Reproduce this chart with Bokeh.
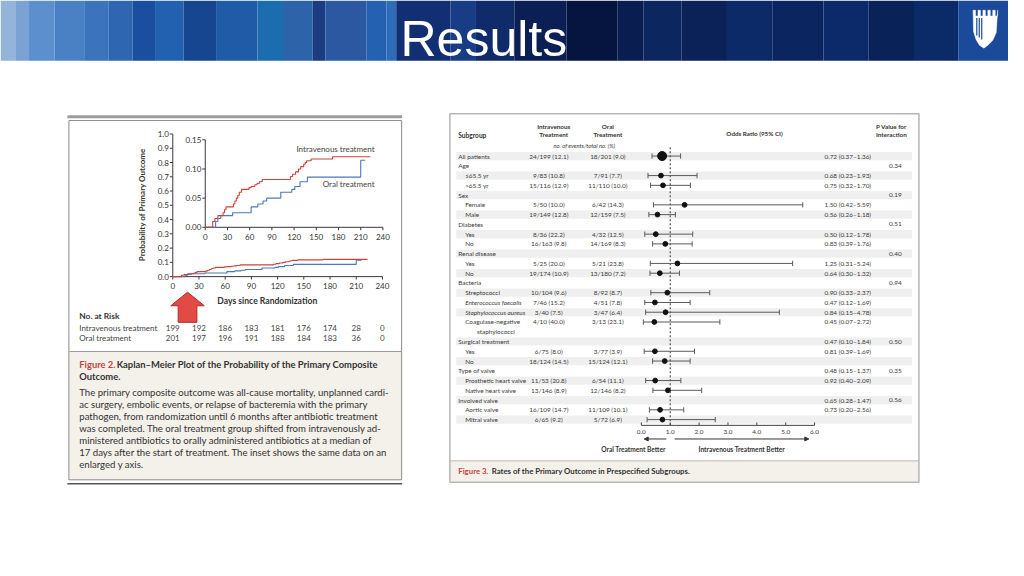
import math
from bokeh.plotting import figure
from bokeh.models import Range1d, ColumnDataSource, Arrow, NormalHead
from bokeh.core.properties import value
from bokeh.embed import file_html
from bokeh.resources import INLINE

# ======================= DATA =======================
slide_title = "Results"

# --- Figure 2: Kaplan-Meier ---
km_day_ticks = [0, 30, 60, 90, 120, 150, 180, 210, 240]
km_prob_ticks = [0.0, 0.1, 0.2, 0.3, 0.4, 0.5, 0.6, 0.7, 0.8, 0.9, 1.0]
km_prob_labels = ["0.0", "0.1", "0.2", "0.3", "0.4", "0.5", "0.6", "0.7", "0.8", "0.9", "1.0"]
inset_prob_ticks = [0.00, 0.05, 0.10, 0.15]
inset_prob_labels = ["0.00", "0.05", "0.10", "0.15"]

iv_days = [0, 10, 13, 17, 24, 26, 28, 38, 40, 42, 44, 46, 49, 59, 62, 67, 70, 73, 77,
           115, 118, 122, 126, 129, 133, 135, 137, 143, 172, 223]
iv_prob = [0.0, 0.010, 0.015, 0.020, 0.025, 0.030, 0.035, 0.040, 0.045, 0.050, 0.055, 0.060,
           0.065, 0.068, 0.070, 0.073, 0.075, 0.078, 0.082, 0.087, 0.091, 0.095, 0.100,
           0.104, 0.108, 0.111, 0.114, 0.117, 0.121, 0.121]
oral_days = [0, 14, 17, 21, 37, 62, 71, 78, 83, 102, 117, 121, 128, 138, 210, 216]
oral_prob = [0.0, 0.010, 0.015, 0.020, 0.025, 0.035, 0.040, 0.045, 0.050, 0.060, 0.065,
             0.070, 0.078, 0.086, 0.115, 0.115]

km_series_labels = ["Intravenous treatment", "Oral treatment"]
risk_title = "No. at Risk"
iv_at_risk = [199, 192, 186, 183, 181, 176, 174, 28, 0]
oral_at_risk = [201, 197, 196, 191, 188, 184, 183, 36, 0]
km_y_title = "Probability of Primary Outcome"
km_x_title = "Days since Randomization"

fig2_label = "Figure 2."
fig2_title = ["Kaplan\u2013Meier Plot of the Probability of the Primary Composite", "Outcome."]
fig2_body = [
    "The primary composite outcome was all-cause mortality, unplanned cardi-",
    "ac surgery, embolic events, or relapse of bacteremia with the primary",
    "pathogen, from randomization until 6 months after antibiotic treatment",
    "was completed. The oral treatment group shifted from intravenously ad-",
    "ministered antibiotics to orally administered antibiotics at a median of",
    "17 days after the start of treatment. The inset shows the same data on an",
    "enlarged y axis.",
]

# --- Figure 3: subgroup forest plot ---
subgroup_labels = ["All patients", "Age", "\u226465.5 yr", ">65.5 yr", "Sex", "Female", "Male",
                   "Diabetes", "Yes", "No", "Renal disease", "Yes", "No", "Bacteria",
                   "Streptococci", "Enterococcus faecalis", "Staphylococcus aureus",
                   "Coagulase-negative", "staphylococci", "Surgical treatment", "Yes", "No",
                   "Type of valve", "Prosthetic heart valve", "Native heart valve",
                   "Involved valve", "Aortic valve", "Mitral valve"]
subgroup_level = [0, 0, 1, 1, 0, 1, 1, 0, 1, 1, 0, 1, 1, 0, 1, 1, 1, 1, 2, 0, 1, 1, 0, 1, 1, 0, 1, 1]
subgroup_italic = [15, 16]
iv_events = ["24/199 (12.1)", "", "9/83 (10.8)", "15/116 (12.9)", "", "5/50 (10.0)",
             "19/149 (12.8)", "", "8/36 (22.2)", "16/163 (9.8)", "", "5/25 (20.0)",
             "19/174 (10.9)", "", "10/104 (9.6)", "7/46 (15.2)", "3/40 (7.5)", "4/10 (40.0)",
             "", "", "6/75 (8.0)", "18/124 (14.5)", "", "11/53 (20.8)", "13/146 (8.9)", "",
             "16/109 (14.7)", "6/65 (9.2)"]
oral_events = ["18/201 (9.0)", "", "7/91 (7.7)", "11/110 (10.0)", "", "6/42 (14.3)",
               "12/159 (7.5)", "", "4/32 (12.5)", "14/169 (8.3)", "", "5/21 (23.8)",
               "13/180 (7.2)", "", "8/92 (8.7)", "4/51 (7.8)", "3/47 (6.4)", "3/13 (23.1)",
               "", "", "3/77 (3.9)", "15/124 (12.1)", "", "6/54 (11.1)", "12/146 (8.2)", "",
               "11/109 (10.1)", "5/72 (6.9)"]
or_rows = [0, 2, 3, 5, 6, 8, 9, 11, 12, 14, 15, 16, 17, 20, 21, 23, 24, 26, 27]
or_est = [0.72, 0.68, 0.75, 1.50, 0.56, 0.50, 0.83, 1.25, 0.64, 0.90, 0.47, 0.84, 0.45,
          0.47, 0.81, 0.48, 0.92, 0.65, 0.73]
or_lo = [0.37, 0.23, 0.32, 0.42, 0.26, 0.12, 0.39, 0.31, 0.30, 0.33, 0.12, 0.15, 0.07,
         0.10, 0.39, 0.15, 0.40, 0.28, 0.20]
or_hi = [1.36, 1.93, 1.70, 5.59, 1.18, 1.78, 1.76, 5.24, 1.32, 2.37, 1.69, 4.78, 2.72,
         1.84, 1.69, 1.37, 2.09, 1.47, 2.56]
p_rows = [1, 4, 7, 10, 13, 19, 22, 25]
p_values = ["0.34", "0.19", "0.51", "0.40", "0.94", "0.50", "0.35", "0.56"]
or_axis_ticks = [0, 1, 2, 3, 4, 5, 6]
or_axis_labels = ["0.0", "1.0", "2.0", "3.0", "4.0", "5.0", "6.0"]
fig3_label = "Figure 3."
fig3_title = "Rates of the Primary Outcome in Prespecified Subgroups."

# ======================= LAYOUT =======================
W, H = 1008, 560            # figure size (page has 8px margin)
RW, RH = 1024, 576          # slide coordinate system mapped onto the figure
FONT = "Lato"
TXT = "#333333"
RED = "#c8443b"
BLUE = "#4a78b8"
BEIGE = "#f4f0ea"


def lin_range(p0, p1, d0, d1, lo, hi):
    s = (d1 - d0) / (p1 - p0)
    return Range1d(start=d0 + (lo - p0) * s, end=d0 + (hi - p0) * s)


KMX = (175, 388)
KMY = (284, 137.3)
INX = (208, 388.5)
INY = (233.3, 143.3)
ORX = (651, 827)
ROW0, ROWDY = 160.0, 10.04

p = figure(width=W, height=H, x_range=Range1d(0, RW), y_range=Range1d(RH, 0),
           output_backend="svg", toolbar_location=None, min_border=0,
           x_axis_type=None, y_axis_type=None, outline_line_color=None,
           background_fill_color="white", border_fill_color="white")
p.grid.visible = False

p.extra_x_ranges = {
    "km": lin_range(KMX[0], KMX[1], 0, 240, 0, RW),
    "inset": lin_range(INX[0], INX[1], 0, 240, 0, RW),
    "or": lin_range(ORX[0], ORX[1], 0, 6, 0, RW),
}
p.extra_y_ranges = {
    "km": lin_range(KMY[0], KMY[1], 0, 1.0, RH, 0),
    "inset": lin_range(INY[0], INY[1], 0, 0.15, RH, 0),
    "row": lin_range(ROW0, ROW0 + 27 * ROWDY, 0, 27, RH, 0),
}

KM_PX_DAY = 240.0 / (KMX[1] - KMX[0])
KM_PX_PROB = 1.0 / (KMY[0] - KMY[1])
IN_PX_DAY = 240.0 / (INX[1] - INX[0])
IN_PX_PROB = 0.15 / (INY[0] - INY[1])


def T(xs, ys, texts, size, color=TXT, align="left", baseline="middle", style="normal",
      font=FONT, angle=0.0, xr=None, yr=None):
    kw = {}
    if xr:
        kw["x_range_name"] = xr
    if yr:
        kw["y_range_name"] = yr
    src = ColumnDataSource(dict(x=list(xs), y=list(ys), t=list(texts)))
    p.text(x="x", y="y", text="t", source=src, text_font=value(font),
           text_font_size=f"{size}px", text_color=color, text_align=align,
           text_baseline=baseline, text_font_style=style, angle=angle, **kw)


# ---------------- title bar ----------------
stripe_edges = [0, 15, 29, 55, 85, 110, 134, 157, 186, 219, 261, 287, 317, 330, 372, 392,
                402, 457, 483, 522, 575, 627, 653, 692, 738, 784, 836, 882, 928, 973, 1024]
stripe_colors = ["#94b4da", "#7aa3d3", "#5b8fcd", "#4a80c4", "#3b74bc", "#2f66b2", "#1a4fa0",
                 "#2261b0", "#15468f", "#1f5ba7", "#1c6db0", "#2c63a9", "#1b3c80", "#2b58a0",
                 "#2461b1", "#2f6cb8", "#112f72", "#183c86", "#0f2b69", "#0b1f55", "#061440",
                 "#0a1d50", "#0c2660", "#0a2258", "#0d2a68", "#0a2560", "#0c2a6a", "#092358",
                 "#0b2a68", "#1b4a9a"]
p.quad(left=stripe_edges[:-1], right=stripe_edges[1:], top=[0] * len(stripe_colors),
       bottom=[62] * len(stripe_colors), fill_color=stripe_colors, line_color=None)
T([491], [40], [slide_title], 50, color="white", align="center", baseline="middle",
  font="Liberation Sans")

# Duke shield (white)
sx = [988, 990.5, 990.5, 993, 993, 995.5, 995.5, 998, 998, 1000.5, 1000.5, 1003, 1003,
      1005.5, 1005.5, 1008, 1008, 1010.5, 1010.5, 1013, 1013, 1011.5, 1008, 1003, 999,
      994.5, 991, 988.5]
sy = [10, 10, 16, 16, 10, 10, 16, 16, 10, 10, 16, 16, 10, 10, 16, 16, 10, 10, 16, 16, 10,
      33, 41, 46, 49, 46, 40, 32]
p.patch(sx, sy, fill_color="white", line_color="white", line_width=0.5)
p.segment(x0=[991.8, 994.3, 996.8], y0=[18, 18, 18], x1=[991.8, 994.3, 996.8],
          y1=[36, 38, 40], line_color="#1b4a9a", line_width=1.2)

# ---------------- left panel frame ----------------
p.quad(left=[68], right=[408], top=[118], bottom=[121], fill_color="#9c9c9c", line_color=None)
p.quad(left=[70], right=[407], top=[361], bottom=[493], fill_color=BEIGE, line_color=None)
p.quad(left=[69.5], right=[407.5], top=[123.5], bottom=[493], fill_color=None,
       line_color="#8a8a8a", line_width=1)
p.segment(x0=[70], y0=[361], x1=[407], y1=[361], line_color="#999999", line_width=1)
p.segment(x0=[68], y0=[497], x1=[408], y1=[497], line_color="#555555", line_width=1.5)

# ---------------- KM main plot ----------------
AX = "#3a3a3a"
p.segment(x0=[0, 0], y0=[0, 0], x1=[0, 240], y1=[1.0, 0], x_range_name="km",
          y_range_name="km", line_color=AX, line_width=1)
p.segment(x0=[-3 * KM_PX_DAY] * len(km_prob_ticks), y0=km_prob_ticks,
          x1=[0] * len(km_prob_ticks), y1=km_prob_ticks, x_range_name="km",
          y_range_name="km", line_color=AX, line_width=1)
p.segment(x0=km_day_ticks, y0=[0] * len(km_day_ticks), x1=km_day_ticks,
          y1=[-3 * KM_PX_PROB] * len(km_day_ticks), x_range_name="km", y_range_name="km",
          line_color=AX, line_width=1)
T([-4 * KM_PX_DAY] * len(km_prob_ticks), km_prob_ticks, km_prob_labels, 8, align="right",
  xr="km", yr="km")
T(km_day_ticks, [294] * len(km_day_ticks), [str(d) for d in km_day_ticks], 8, align="center",
  xr="km")
p.step(x=oral_days, y=oral_prob, mode="after", x_range_name="km", y_range_name="km",
       line_color=BLUE, line_width=1.1)
p.step(x=iv_days, y=iv_prob, mode="after", x_range_name="km", y_range_name="km",
       line_color=RED, line_width=1.1)
T([144], [210], [km_y_title], 8, style="bold", align="center", angle=math.pi / 2)
T([271], [309], [km_x_title], 8.6, style="bold", align="center")

# ---------------- KM inset ----------------
p.segment(x0=[0, 0], y0=[0, 0], x1=[0, 240], y1=[0.15, 0], x_range_name="inset",
          y_range_name="inset", line_color=AX, line_width=1)
p.segment(x0=[-3 * IN_PX_DAY] * len(inset_prob_ticks), y0=inset_prob_ticks,
          x1=[0] * len(inset_prob_ticks), y1=inset_prob_ticks, x_range_name="inset",
          y_range_name="inset", line_color=AX, line_width=1)
p.segment(x0=km_day_ticks, y0=[0] * len(km_day_ticks), x1=km_day_ticks,
          y1=[-3 * IN_PX_PROB] * len(km_day_ticks), x_range_name="inset",
          y_range_name="inset", line_color=AX, line_width=1)
T([-4 * IN_PX_DAY] * len(inset_prob_ticks), inset_prob_ticks, inset_prob_labels, 8,
  align="right", xr="inset", yr="inset")
T(km_day_ticks, [243] * len(km_day_ticks), [str(d) for d in km_day_ticks], 8, align="center",
  xr="inset")
p.step(x=oral_days, y=oral_prob, mode="after", x_range_name="inset", y_range_name="inset",
       line_color=BLUE, line_width=1.1)
p.step(x=iv_days, y=iv_prob, mode="after", x_range_name="inset", y_range_name="inset",
       line_color=RED, line_width=1.1)
T([380, 380], [153, 189], km_series_labels, 8, align="right", color="#444444")

# red arrow
ax_ = [190, 207, 199.5, 199.5, 180.5, 180.5, 173]
ay_ = [300, 314, 314, 331, 331, 314, 314]
p.patch(ax_, ay_, fill_color="#e24a45", line_color="#b02a28", line_width=1)

# risk table
T([80], [325], [risk_title], 8.4, style="bold")
T([80, 80], [337, 347.3], km_series_labels, 8, color="#444444")
T(km_day_ticks, [337] * 9, [str(v) for v in iv_at_risk], 8, align="center", xr="km",
  color="#444444")
T(km_day_ticks, [347.3] * 9, [str(v) for v in oral_at_risk], 8, align="center", xr="km",
  color="#444444")

# caption
T([80], [374], [fig2_label], 9.4, style="bold", color=RED)
T([118], [374], [fig2_title[0]], 9.4, style="bold")
T([80], [386.7], [fig2_title[1]], 9.4, style="bold")
T([80] * len(fig2_body), [403 + 12.45 * i for i in range(len(fig2_body))], fig2_body, 9.6)

# ---------------- right panel frame ----------------
p.quad(left=[457], right=[932.5], top=[473.5], bottom=[495], fill_color=BEIGE, line_color=None)
p.quad(left=[456.5], right=[933], top=[116.5], bottom=[495.5], fill_color=None,
       line_color="#b5b5b5", line_width=1.5)
p.segment(x0=[457], y0=[473.5], x1=[932.5], y1=[473.5], line_color="#bbbbbb", line_width=1)

# row stripes
shaded = [r for r in range(28) if (r < 18 and r % 2 == 0) or (r > 18 and r % 2 == 1)]
p.quad(left=[463] * len(shaded), right=[926] * len(shaded), top=[r - 0.42 for r in shaded],
       bottom=[r + 0.42 for r in shaded], y_range_name="row", fill_color="#efefef",
       line_color=None)

# headers
FS = 6.4
T([465], [138], ["Subgroup"], 6.6, style="bold")
T([562, 562], [130, 138], ["Intravenous", "Treatment"], 6.3, style="bold", align="center")
T([617, 617], [130, 138], ["Oral", "Treatment"], 6.3, style="bold", align="center")
T([593], [149], ["no. of events/total no. (%)"], 5.8, style="italic", align="center")
T([766], [137], ["Odds Ratio (95% CI)"], 6.3, style="bold", align="center")
T([905, 905], [130, 138], ["P Value for", "Interaction"], 6.3, style="bold", align="center")

# subgroup rows
indent = {0: 465, 1: 472, 2: 484}
for r, lab in enumerate(subgroup_labels):
    st = "italic" if r in subgroup_italic else "normal"
    T([indent[subgroup_level[r]]], [r], [lab], FS, style=st, yr="row", color="#3a3a3a")
ev_rows = [r for r in range(28) if iv_events[r]]
T([557] * len(ev_rows), ev_rows, [iv_events[r] for r in ev_rows], FS, align="center",
  yr="row", color="#3a3a3a")
T([617] * len(ev_rows), ev_rows, [oral_events[r] for r in ev_rows], FS, align="center",
  yr="row", color="#3a3a3a")

# odds ratio text column (as printed in the slide image)
or_text_rows = [r if r < 18 else r - 1 for r in or_rows]
or_text = [f"{e:.2f} ({l:.2f}\u2013{h:.2f})" for e, l, h in zip(or_est, or_lo, or_hi)]
T([837] * len(or_text), or_text_rows, or_text, FS, yr="row", color="#3a3a3a")
T([909] * len(p_rows), p_rows, p_values, FS, align="center", yr="row", color="#3a3a3a")

# forest marks
p.segment(x0=[1], y0=[-0.9], x1=[1], y1=[27.6], x_range_name="or", y_range_name="row",
          line_color="#333333", line_width=1, line_dash="2 2")
p.segment(x0=or_lo, y0=or_rows, x1=or_hi, y1=or_rows, x_range_name="or", y_range_name="row",
          line_color="#5a5a5a", line_width=1)
p.segment(x0=or_lo + or_hi, y0=[r - 0.27 for r in or_rows] * 2, x1=or_lo + or_hi,
          y1=[r + 0.27 for r in or_rows] * 2, x_range_name="or", y_range_name="row",
          line_color="#5a5a5a", line_width=1)
sizes = [9 if r == 0 else 4.8 for r in or_rows]
p.scatter(x=or_est, y=or_rows, size=sizes, marker="circle", x_range_name="or",
          y_range_name="row", fill_color="#111111", line_color="#111111")

# forest axis
p.segment(x0=[0], y0=[437], x1=[6], y1=[437], x_range_name="or", line_color="#444444",
          line_width=1)
p.segment(x0=or_axis_ticks, y0=[437] * 7, x1=or_axis_ticks, y1=[434] * 7, x_range_name="or",
          line_color="#444444", line_width=1)
T(or_axis_ticks, [443.5] * 7, or_axis_labels, FS, align="center", xr="or", color="#3a3a3a")
p.add_layout(Arrow(x_start=0.87, y_start=451, x_end=0.1, y_end=451, x_range_name="or",
                   line_color="#333333", line_width=1,
                   end=NormalHead(size=4, fill_color="#333333", line_color="#333333")))
p.add_layout(Arrow(x_start=1.15, y_start=451, x_end=5.8, y_end=451, x_range_name="or",
                   line_color="#333333", line_width=1,
                   end=NormalHead(size=4, fill_color="#333333", line_color="#333333")))
T([643], [461], ["Oral Treatment Better"], 6.6, style="bold", align="center")
T([753], [461], ["Intravenous Treatment Better"], 6.6, style="bold", align="center")

# caption
T([465], [484], [fig3_label], 7.8, style="bold", color=RED)
T([499], [484], [fig3_title], 7.8, style="bold")

open("out.html", "w").write(file_html(p, INLINE))
